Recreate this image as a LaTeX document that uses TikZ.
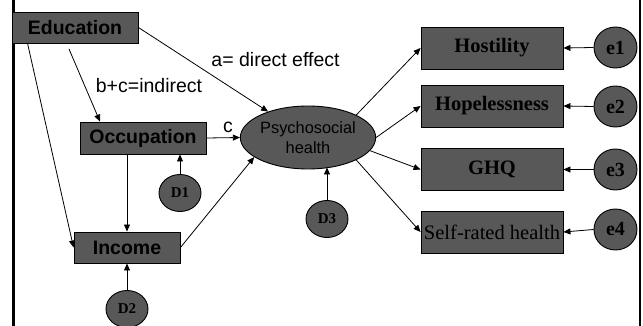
\documentclass[tikz,border=0pt]{standalone}
\usepackage{fontspec}
\usetikzlibrary{shapes.geometric,arrows.meta,calc}
\newfontfamily\sansf{Liberation Sans}
\newfontfamily\serf{Liberation Serif}
\definecolor{boxgray}{RGB}{88,88,88}
\tikzset{
  x=1pt, y=-1pt,
  varbox/.style={draw=black, line width=0.9pt, fill=boxgray, text=black, rectangle, inner sep=0pt, anchor=center},
  latent/.style={draw=black, line width=0.9pt, fill=boxgray, text=black, ellipse, inner sep=0pt},
  errnode/.style={latent, minimum width=42pt, minimum height=37pt,
    font=\serf\bfseries\fontsize{15}{17}\selectfont},
  outbox/.style={varbox, minimum width=142pt, minimum height=42pt},
  predbox/.style={varbox, font=\sansf\bfseries\fontsize{19.5}{22}\selectfont},
  path/.style={line width=0.8pt, -{Triangle[length=7pt,width=6pt]}},
  lbl/.style={font=\sansf\fontsize{19.5}{22}\selectfont, inner sep=0pt}
}
\begin{document}
\begin{tikzpicture}
\useasboundingbox (0,0) rectangle (643,326);
% frame sides
\draw[line width=2.5pt] (13.5,0) -- (13.5,326);
\draw[line width=2pt] (639.5,0) -- (639.5,326);

% predictors
\node[predbox, minimum width=126pt, minimum height=31pt] (edu) at (75,27.5) {Education};
\node[predbox, minimum width=126pt, minimum height=32pt] (occ) at (143,138) {Occupation};
\node[predbox, minimum width=106pt, minimum height=31pt] (inc) at (127,247.5) {Income};

% mediator
\node[latent, minimum width=110pt, minimum height=63pt, align=center,
  font=\sansf\fontsize{16.4}{19.5}\selectfont] (psy) at (308,137.5) {Psychosocial\\health};

% disturbances
\node[errnode] (d1) at (180,193) {D1};
\node[errnode] (d2) at (127,309) {D2};
\node[errnode] (d3) at (327,219) {D3};

% outcomes
\node[outbox, font=\serf\bfseries\fontsize{20.5}{23}\selectfont] (host) at (492,48) {Hostility};
\node[outbox, font=\serf\bfseries\fontsize{20.5}{23}\selectfont] (hope) at (492,106) {Hopelessness};
\node[outbox, font=\serf\bfseries\fontsize{20.5}{23}\selectfont] (ghq) at (492,169.5) {GHQ};
\node[outbox, font=\serf\fontsize{20.5}{23}\selectfont] (srh) at (492,232) {Self-rated health};

% outcome errors
\node[errnode, minimum width=43pt, minimum height=41pt, font=\serf\bfseries\fontsize{20}{22}\selectfont] (e1) at (615.5,47.5) {e1};
\node[errnode, minimum width=43pt, minimum height=41pt, font=\serf\bfseries\fontsize{20}{22}\selectfont] (e2) at (615.5,106.5) {e2};
\node[errnode, minimum width=43pt, minimum height=41pt, font=\serf\bfseries\fontsize{20}{22}\selectfont] (e3) at (615.5,169.5) {e3};
\node[errnode, minimum width=43pt, minimum height=41pt, font=\serf\bfseries\fontsize{20}{22}\selectfont] (e4) at (615.5,229.5) {e4};

% path labels
\node[lbl] (la) at (275.5,60) {a= direct effect};
\node[lbl] (lb) at (149,86) {b+c=indirect};
\node[lbl] (lc) at (228,127) {c};

% structural paths
\coordinate (bstart) at (69,49);
\coordinate (bend) at (100,0);
\draw[path] (edu.east) -- (psy);
\draw[path] (bstart) -- (occ.north -| bend);
\draw[path] ([xshift=16pt]edu.south west) -- (inc.west);
\draw[path] (occ.east) -- (psy.west);
\draw[path] (inc.north |- occ.south) -- (inc.north);
\draw[path] (inc.east) -- (psy.200);
\draw[path] (d1.north) -- (d1.north |- occ.south);
\draw[path] (d2.north) -- (inc.south);
\draw[path] (d3.north) -- ($(d3.north |- psy.south)+(0,-2)$);

% measurement paths
\draw[path] (psy.25) -- (host.west);
\draw[path] (psy.east) -- (hope.west);
\draw[path] (psy.-12) -- (ghq.west);
\draw[path] (psy.-25) -- (srh.west);
\draw[path] (e1.west) -- (host.east);
\draw[path] (e2.west) -- (hope.east);
\draw[path] (e3.west) -- (ghq.east);
\draw[path] (e4.west) -- (srh.east);
\end{tikzpicture}
\end{document}
